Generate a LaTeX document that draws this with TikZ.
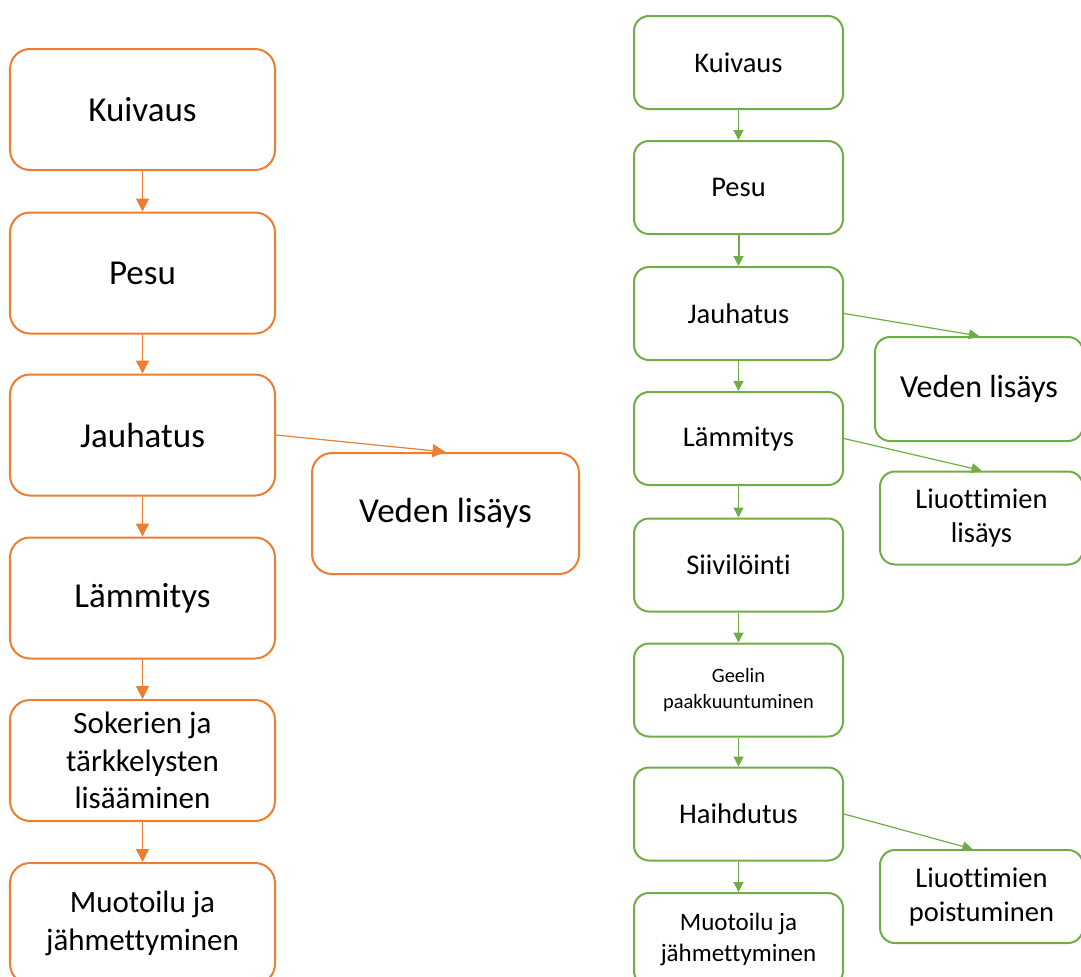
\documentclass[tikz,border=0pt]{standalone}
\usepackage{fontspec}
\setmainfont{Carlito}[RawFeature={-liga;-clig;-calt;-dlig}]
\usetikzlibrary{arrows.meta}
\definecolor{orng}{HTML}{ED7D31}
\definecolor{grn}{HTML}{70AD47}

\begin{document}
\begin{tikzpicture}[x=1bp,y=-1bp,
  obox/.style={draw=orng,line width=2bp,rounded corners=20bp,minimum width=265bp,minimum height=121bp,
    align=center,inner sep=0pt,font=\fontsize{35bp}{42bp}\selectfont},
  osmall/.style={font=\fontsize{31bp}{37.5bp}\selectfont},
  gbox/.style={draw=grn,line width=2bp,rounded corners=15bp,minimum width=209bp,minimum height=93bp,
    align=center,inner sep=0pt,font=\fontsize{28.5bp}{34bp}\selectfont},
  oarr/.style={draw=orng,line width=1.5bp,-{Triangle[length=13bp,width=13bp]}},
  garr/.style={draw=grn,line width=1.2bp,-{Triangle[length=10bp,width=10bp]}}]
\useasboundingbox (0,0) rectangle (1081,977);
\clip (0,0) rectangle (1081,977);
% left chain
\node[obox] (kuiv) at (142.5,109.5) {Kuivaus};
\node[obox] (pesu) at (142.5,273) {Pesu};
\node[obox] (jauh) at (142.5,435) {Jauhatus};
\node[obox] (lamm) at (142.5,598) {Lämmitys};
\node[obox,osmall] (soke) at (142.5,760.5) {Sokerien ja\\tärkkelysten\\lisääminen};
\node[obox,osmall] (muot) at (142.5,923.5) {Muotoilu ja\\jähmettyminen};
\node[obox,minimum width=267bp] (vede) at (445.5,513.5) {Veden lisäys};
\draw[oarr] (kuiv) -- (pesu);
\draw[oarr] (pesu) -- (jauh);
\draw[oarr] (jauh) -- (lamm);
\draw[oarr] (lamm) -- (soke);
\draw[oarr] (soke) -- (muot);
\draw[oarr,line width=1.2bp] (jauh.east) -- (vede.north);
% right chain
\node[gbox] (gkuiv) at (738.5,62.5) {Kuivaus};
\node[gbox] (gpesu) at (738.5,187.5) {Pesu};
\node[gbox] (gjauh) at (738.5,313.5) {Jauhatus};
\node[gbox] (glamm) at (738.5,438.5) {Lämmitys};
\node[gbox] (gsiiv) at (738.5,565) {Siivilöinti};
\node[gbox,font=\fontsize{20.4bp}{26bp}\selectfont] (ggeel) at (738.5,690) {Geelin\\paakkuuntuminen};
\node[gbox] (ghaih) at (738.5,814) {Haihdutus};
\node[gbox,font=\fontsize{25bp}{31bp}\selectfont] (gmuot) at (738.5,939.5) {Muotoilu ja\\jähmettyminen};
\node[gbox,minimum width=208bp,minimum height=104bp,font=\fontsize{32bp}{38bp}\selectfont] (gvede) at (979,389) {Veden lisäys};
\node[gbox,minimum width=203bp] (gliuo) at (981.5,518) {Liuottimien\\lisäys};
\node[gbox,minimum width=203bp] (gpois) at (981.5,896.5) {Liuottimien\\poistuminen};
\draw[garr] (gkuiv) -- (gpesu);
\draw[garr,line width=2bp] (gpesu) -- (gjauh);
\draw[garr] (gjauh) -- (glamm);
\draw[garr] (glamm) -- (gsiiv);
\draw[garr] (gsiiv) -- (ggeel);
\draw[garr] (ggeel) -- (ghaih);
\draw[garr] (ghaih) -- (gmuot);
\draw[garr] (gjauh.east) -- (gvede.north);
\draw[garr] (glamm.east) -- (gliuo.north);
\draw[garr] (ghaih.east) -- ([xshift=-9bp]gpois.north);
\end{tikzpicture}
\end{document}
